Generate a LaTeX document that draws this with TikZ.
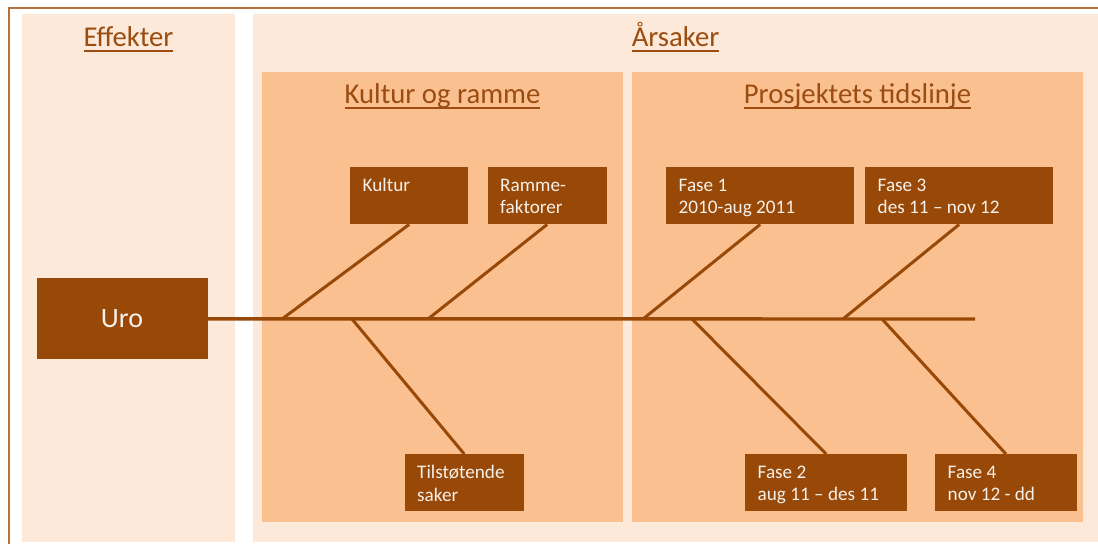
\documentclass[tikz,border=0pt]{standalone}
\usepackage{fontspec}
\setmainfont{Carlito}
\definecolor{light}{HTML}{FDE9D9}
\definecolor{mid}{HTML}{FAC090}
\definecolor{dark}{HTML}{984807}
\definecolor{framec}{HTML}{B5713E}
\definecolor{head}{HTML}{9C4C10}
\definecolor{boxtxt}{HTML}{F6F0EA}
\newcommand\hdul[1]{\vtop{\hbox{\raisebox{0pt}[\height][0pt]{#1}}\kern4pt\hrule height 2pt}}
\begin{document}
\begin{tikzpicture}[x=1pt,y=-1pt,
  header/.style={anchor=base, inner sep=0, text=head, font=\fontsize{28.7}{32}\selectfont},
  cbox/.style={anchor=north west, fill=dark, inner sep=0, minimum height=57},
  btxt/.style={anchor=north west, inner sep=0, align=left, text=boxtxt, font=\fontsize{19.2}{22.6}\selectfont},
  bone/.style={draw=dark, line width=3pt},
  spine/.style={draw=dark, line width=3.4pt}
]
\useasboundingbox (0,0) rectangle (1098,544);
\fill[white] (0,0) rectangle (1098,544);
% panels
\fill[light] (22,14) rectangle (235,542);
\fill[light] (253,14) rectangle (1098,542);
\fill[mid] (262,72) rectangle (623,522);
\fill[mid] (632,72) rectangle (1083,522);
\draw[framec, line width=2pt] (9,544) -- (9,8) -- (1098,8);
% headers
\node[header] (heff) at (128.5,46) {\hdul{Effekter}};
\node[header] (hars) at (675.5,46) {\hdul{Årsaker}};
\node[header] (hkul) at (442.5,103) {\hdul{Kultur og ramme}};
\node[header] (htid) at (857.5,103) {\hdul{Prosjektets tidslinje}};
% effect box
\node[fill=dark, inner sep=0, minimum width=171, minimum height=81, text=boxtxt,
  font=\fontsize{28}{32}\selectfont] (uro) at (122,318.8) {Uro};
% cause boxes
\node[cbox, minimum width=118] (kultur) at (350,167) {};
\node[cbox, minimum width=119] (ramme) at (487.5,167) {};
\node[cbox, minimum width=188] (fase1) at (666,167) {};
\node[cbox, minimum width=188] (fase3) at (865,167) {};
\node[cbox, minimum width=119] (tilst) at (404.5,454) {};
\node[cbox, minimum width=162] (fase2) at (745,454) {};
\node[cbox, minimum width=141.5] (fase4) at (935,454) {};
\node[btxt] (tkultur) at ([xshift=12.5pt,yshift=-11pt]kultur.north west) {Kultur};
\node[btxt] (tramme) at ([xshift=12.5pt,yshift=-11.5pt]ramme.north west) {Ramme-\\faktorer};
\node[btxt] (tfase1) at ([xshift=12.5pt,yshift=-11.5pt]fase1.north west) {Fase 1\\2010-aug 2011};
\node[btxt] (tfase3) at ([xshift=12.5pt,yshift=-11.5pt]fase3.north west) {Fase 3\\des 11 – nov 12};
\node[btxt] (ttilst) at ([xshift=12.5pt,yshift=-11pt]tilst.north west) {Tilstøtende\\saker};
\node[btxt] (tfase2) at ([xshift=12.5pt,yshift=-11.5pt]fase2.north west) {Fase 2\\aug 11 – des 11};
\node[btxt] (tfase4) at ([xshift=12.5pt,yshift=-11.5pt]fase4.north west) {Fase 4\\nov 12 - dd};
% spine and bones
\coordinate (spineend) at (975,319);
\coordinate (bk) at (282,319);
\coordinate (br) at (428,319);
\coordinate (bt) at (352,319);
\coordinate (bf1) at (643,319);
\coordinate (bf2) at (692,319);
\coordinate (bf3) at (843,319);
\coordinate (bf4) at (882,319);
\draw[spine] (uro.east) -- (spineend);
\draw[bone] (bk) -- (kultur.south);
\draw[bone] (br) -- (ramme.south);
\draw[bone] (bt) -- (tilst.north);
\draw[bone] (bf1) -- (fase1.south);
\draw[bone] (bf3) -- (fase3.south);
\draw[bone] (bf2) -- (fase2.north);
\draw[bone] (bf4) -- (fase4.north);
\end{tikzpicture}
\end{document}
